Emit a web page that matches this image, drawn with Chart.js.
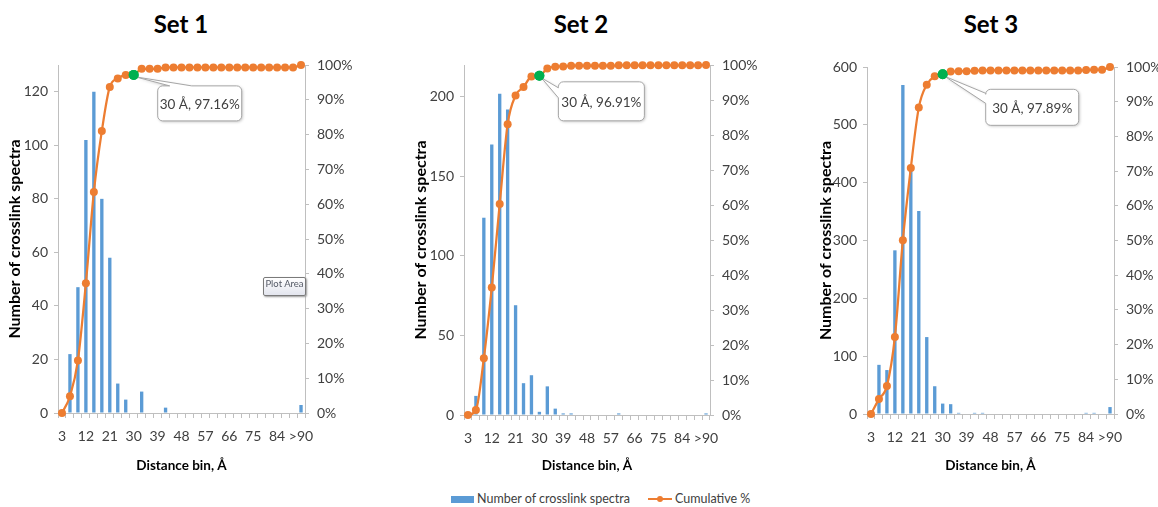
<!DOCTYPE html>
<html>
<head>
<meta charset="utf-8">
<script src="https://cdn.jsdelivr.net/npm/chart.js@4.4.0/dist/chart.umd.min.js"></script>
<style>
  body { margin: 0; background: #fff; width: 1158px; height: 507px; position: relative; overflow: hidden; font-family: Lato, sans-serif; }
  canvas { position: absolute; top: 0; }
  .set-title { position: absolute; top: 9px; font: bold 24px Lato, sans-serif; color: #000; transform: translateX(-50%); white-space: nowrap; }
  .plot-area-tip { position: absolute; left: 263px; top: 277px; width: 41px; height: 17px; line-height: 17px; font: 9.5px Lato, sans-serif; color: #555a66; text-align: center; white-space: nowrap;
    border: 1px solid #7a7a7a; border-radius: 2px; background: linear-gradient(#ffffff, #e3e5ee); box-shadow: 1px 1px 2px #9a9a9a; }
  #legend { position: absolute; top: 490px; left: 0; width: 1158px; height: 17px; font: 12.5px Lato, sans-serif; color: #404040; }
  #legend .sw-bar { position: absolute; left: 451px; top: 6px; width: 23px; height: 7px; background: #5B9BD5; }
  #legend .sw-line { position: absolute; left: 648px; top: 8px; width: 24px; height: 2px; background: #ED7D31; }
  #legend .sw-line i { position: absolute; left: 9px; top: -2px; width: 6px; height: 6px; border-radius: 50%; background: #ED7D31; }
  #legend .txt { position: absolute; top: 1px; white-space: nowrap; }
</style>
</head>
<body>

<div class="set-title" style="left:181px">Set 1</div>
<div class="set-title" style="left:581px">Set 2</div>
<div class="set-title" style="left:991px">Set 3</div>

<canvas id="set1" width="380" height="480" style="left:0px"></canvas>
<canvas id="set2" width="380" height="480" style="left:395px"></canvas>
<canvas id="set3" width="368" height="480" style="left:790px"></canvas>

<div class="plot-area-tip">Plot Area</div>

<div id="legend">
  <span class="sw-bar"></span><span class="txt" style="left:477px">Number of crosslink spectra</span>
  <span class="sw-line"><i></i></span><span class="txt" style="left:675px">Cumulative %</span>
</div>

<script>
  // distance bins (Å) - the last one is the overflow bin
  const distanceBins = ["3", "6", "9", "12", "15", "18", "21", "24", "27", "30",
    "33", "36", "39", "42", "45", "48", "51", "54", "57", "60",
    "63", "66", "69", "72", "75", "78", "81", "84", "87", "90", ">90"];

  // number of crosslink spectra per bin
  const set1Counts = [0, 22, 47, 102, 120, 80, 58, 11, 5, 0,
    8, 0, 0, 2, 0, 0, 0, 0, 0, 0,
    0, 0, 0, 0, 0, 0, 0, 0, 0, 0, 3];
  const set2Counts = [0, 12, 124, 170, 202, 192, 69, 20, 25, 2,
    18, 4, 1, 1, 0, 0, 0, 0, 0, 1,
    0, 0, 0, 0, 0, 0, 0, 0, 0, 0, 1];
  const set3Counts = [0, 85, 76, 283, 569, 420, 351, 133, 48, 18,
    17, 2, 0, 2, 2, 0, 0, 0, 0, 0,
    0, 0, 0, 0, 0, 0, 0, 2, 2, 0, 12];

  // cumulative % per bin
  const set1Cumulative = [0, 4.8, 15.1, 37.3, 63.5, 81.0, 93.7, 96.1, 97.16, 97.16,
    98.9, 98.9, 98.9, 99.3, 99.3, 99.3, 99.3, 99.3, 99.3, 99.3,
    99.3, 99.3, 99.3, 99.3, 99.3, 99.3, 99.3, 99.3, 99.3, 99.3, 100];
  const set2Cumulative = [0, 1.4, 16.2, 36.4, 60.3, 83.1, 91.3, 93.7, 96.7, 96.91,
    99.0, 99.5, 99.6, 99.8, 99.8, 99.8, 99.8, 99.8, 99.8, 99.9,
    99.9, 99.9, 99.9, 99.9, 99.9, 99.9, 99.9, 99.9, 99.9, 99.9, 100];
  const set3Cumulative = [0, 4.3, 8.1, 22.2, 50.1, 70.9, 88.3, 94.9, 97.3, 97.89,
    98.7, 98.8, 98.8, 98.9, 99.0, 99.0, 99.0, 99.0, 99.0, 99.0,
    99.0, 99.0, 99.0, 99.0, 99.0, 99.0, 99.0, 99.1, 99.2, 99.2, 100];

  const highlightIndex = 9; // the 30 Å bin

  const AXIS_GREY = "#bfbfbf";
  const TICK_FONT = { family: "Lato, sans-serif", size: 14 };

  // rounded box with a wedge pointing to (px, py); wedge base sits on the top or left edge
  function calloutPath(ctx, x, y, w, h, r, side, b1, b2, px, py) {
    ctx.beginPath();
    ctx.moveTo(x + r, y);
    if (side === "top") {
      ctx.lineTo(x + b1, y);
      ctx.lineTo(px, py);
      ctx.lineTo(x + b2, y);
    }
    ctx.lineTo(x + w - r, y);
    ctx.arcTo(x + w, y, x + w, y + r, r);
    ctx.lineTo(x + w, y + h - r);
    ctx.arcTo(x + w, y + h, x + w - r, y + h, r);
    ctx.lineTo(x + r, y + h);
    ctx.arcTo(x, y + h, x, y + h - r, r);
    if (side === "left") {
      ctx.lineTo(x, y + b2);
      ctx.lineTo(px, py);
      ctx.lineTo(x, y + b1);
    }
    ctx.lineTo(x, y + r);
    ctx.arcTo(x, y, x + r, y, r);
    ctx.closePath();
  }

  const calloutPlugin = {
    id: "callout",
    afterDatasetsDraw(chart, args, opts) {
      const pt = chart.getDatasetMeta(1).data[highlightIndex];
      if (!pt) return;
      const ctx = chart.ctx;
      const value = chart.data.datasets[1].data[highlightIndex];
      const text = distanceBins[highlightIndex] + " Å, " + value.toFixed(2) + "%";
      const bx = pt.x + opts.dx, by = pt.y + opts.dy;
      ctx.save();
      ctx.shadowColor = "rgba(0,0,0,0.25)";
      ctx.shadowBlur = 3;
      ctx.shadowOffsetX = 1;
      ctx.shadowOffsetY = 1;
      calloutPath(ctx, bx, by, opts.w, opts.h, 5, opts.side, opts.b1, opts.b2, pt.x + 2, pt.y + 2);
      ctx.fillStyle = "#fff";
      ctx.fill();
      ctx.shadowColor = "transparent";
      ctx.strokeStyle = "#a6a6a6";
      ctx.lineWidth = 1;
      ctx.stroke();
      ctx.fillStyle = "#404040";
      ctx.font = "13.5px Lato, sans-serif";
      ctx.textAlign = "center";
      ctx.textBaseline = "middle";
      ctx.fillText(text, bx + opts.w / 2, by + opts.h / 2 + 1);
      // redraw the green marker on top of the wedge
      ctx.beginPath();
      ctx.arc(pt.x, pt.y, 5, 0, Math.PI * 2);
      ctx.fillStyle = "#00B050";
      ctx.fill();
      ctx.restore();
    }
  };

  function makeChart(id, counts, cumulative, cfg) {
    const canvas = document.getElementById(id);
    const pointColors = cumulative.map((v, i) => (i === highlightIndex ? "#00B050" : "#ED7D31"));
    return new Chart(canvas, {
      type: "bar",
      data: {
        labels: distanceBins,
        datasets: [
          {
            type: "bar",
            label: "Number of crosslink spectra",
            data: counts,
            yAxisID: "y",
            backgroundColor: "#5B9BD5",
            barPercentage: 0.42,
            categoryPercentage: 1,
            order: 2,
          },
          {
            type: "line",
            label: "Cumulative %",
            data: cumulative,
            yAxisID: "y1",
            borderColor: "#ED7D31",
            backgroundColor: "#ED7D31",
            borderWidth: 2.25,
            pointRadius: cumulative.map((v, i) => (i === highlightIndex ? 5 : 4)),
            pointBackgroundColor: pointColors,
            pointBorderColor: pointColors,
            pointBorderWidth: 0,
            cubicInterpolationMode: "monotone",
            clip: false,
            order: 1,
          },
        ],
      },
      options: {
        responsive: false,
        animation: false,
        devicePixelRatio: 1,
        layout: { padding: { left: cfg.padLeft, top: cfg.top, right: 0, bottom: 2 } },
        plugins: {
          legend: { display: false },
          tooltip: { enabled: false },
          callout: cfg.callout,
        },
        scales: {
          x: {
            grid: { offset: true, drawOnChartArea: false, color: AXIS_GREY, tickLength: 5 },
            border: { color: AXIS_GREY },
            ticks: {
              autoSkip: false,
              maxRotation: 0,
              padding: 10,
              color: "#404040",
              font: TICK_FONT,
              callback: (v, i) => (i % 3 === 0 ? distanceBins[i] : ""),
            },
            title: { display: true, text: "Distance bin, Å", color: "#000", font: { family: "Lato, sans-serif", size: 13.5, weight: "bold" }, padding: { top: 4, bottom: 4 } },
            afterFit: (s) => { s.height = 478 - cfg.bottom; },
          },
          y: {
            position: "left",
            min: 0,
            max: cfg.yMax,
            grid: { drawOnChartArea: false, color: AXIS_GREY, tickLength: 4 },
            border: { color: AXIS_GREY },
            ticks: { stepSize: cfg.yStep, includeBounds: false, padding: 6, color: "#404040", font: TICK_FONT },
            title: { display: true, text: "Number of crosslink spectra", color: "#000", font: { family: "Lato, sans-serif", size: 16, weight: "bold" }, padding: { top: 5, bottom: 4 } },
            afterFit: (s) => { s.width = cfg.left - cfg.padLeft; },
          },
          y1: {
            position: "right",
            min: 0,
            max: 100,
            grid: { drawOnChartArea: false, color: AXIS_GREY, tickLength: 4 },
            border: { color: AXIS_GREY },
            ticks: { stepSize: 10, padding: 8, color: "#404040", font: TICK_FONT, callback: (v) => v + "%" },
            afterFit: (s) => { s.width = canvas.width - cfg.right; },
          },
        },
      },
      plugins: [calloutPlugin],
    });
  }

  makeChart("set1", set1Counts, set1Cumulative, {
    padLeft: 0, left: 58, right: 305, top: 65, bottom: 413, yMax: 130, yStep: 20,
    callout: { dx: 24, dy: 11, w: 84, h: 35, side: "top", b1: 12, b2: 34 },
  });
  makeChart("set2", set2Counts, set2Cumulative, {
    padLeft: 11, left: 69, right: 315, top: 65, bottom: 415, yMax: 220, yStep: 50,
    callout: { dx: 19, dy: 6, w: 86, h: 39, side: "left", b1: 6, b2: 16 },
  });
  makeChart("set3", set3Counts, set3Cumulative, {
    padLeft: 21, left: 77, right: 324, top: 67, bottom: 414, yMax: 600, yStep: 100,
    callout: { dx: 43, dy: 15, w: 93, h: 36, side: "left", b1: 4, b2: 14 },
  });
</script>
</body>
</html>
